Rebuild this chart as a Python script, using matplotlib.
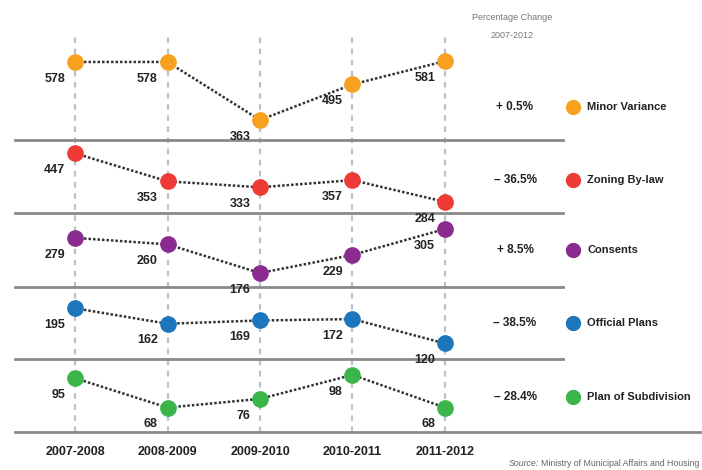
import matplotlib
matplotlib.use("Agg")
import matplotlib.pyplot as plt
from matplotlib.lines import Line2D
from matplotlib import font_manager

periods = ["2007-2008", "2008-2009", "2009-2010", "2010-2011", "2011-2012"]
series_names = ["Minor Variance", "Zoning By-law", "Consents", "Official Plans", "Plan of Subdivision"]
minor_variance = [578, 578, 363, 495, 581]
zoning_bylaw = [447, 353, 333, 357, 284]
consents = [279, 260, 176, 229, 305]
official_plans = [195, 162, 169, 172, 120]
plan_subdivision = [95, 68, 76, 98, 68]
pct_change = ["+ 0.5%", "\u2013 36.5%", "+ 8.5%", "\u2013 38.5%", "\u2013 28.4%"]

series = [minor_variance, zoning_bylaw, consents, official_plans, plan_subdivision]
colors = ["#F7A11F", "#EE3B36", "#8B2B8F", "#1C76BC", "#3BB54A"]

# layout (styles/positions)
W, H = 702, 470
band_px = [(37, 140), (140, 213), (213, 287), (287, 359), (359, 432)]
row_y = [107, 180, 250, 323, 397]
ylims = [(288.9, 670.4), (246.6, 491.8), (135.0, 351.9), (86.7, 240.5), (45.6, 112.6)]
x_left, x_right = 15, 563
xlim = (-0.649, 5.276)

avail = {f.name for f in font_manager.fontManager.ttflist}
cond = "Liberation Sans Narrow" if "Liberation Sans Narrow" in avail else "Liberation Sans"
plt.rcParams["font.family"] = [cond, "DejaVu Sans"]

fig = plt.figure(figsize=(W / 100, H / 100), dpi=100)

def rect(x0, y0, x1, y1):
    return [x0 / W, 1 - y1 / H, (x1 - x0) / W, (y1 - y0) / H]

xs = list(range(len(periods)))

# background dashed verticals
bg = fig.add_axes(rect(x_left, 37, x_right, 432))
bg.set_xlim(*xlim)
bg.set_ylim(0, 1)
for x in xs:
    bg.axvline(x, color="#b9c2cc", lw=1.6, ls=(0, (2.5, 2.5)), zorder=0)
bg.axis("off")

for i, (vals, col) in enumerate(zip(series, colors)):
    t, b = band_px[i]
    ax = fig.add_axes(rect(x_left, t, x_right, b))
    ax.patch.set_alpha(0)
    ax.set_xlim(*xlim)
    ax.set_ylim(*ylims[i])
    ax.plot(xs, vals, ls=(0, (1, 0.8)), color="#333333", lw=1.8, zorder=2)
    ax.plot(xs, vals, ls="none", marker="o", ms=11, color=col,
            markeredgecolor=col, zorder=3, clip_on=False)
    for x, v in zip(xs, vals):
        ax.annotate(str(v), (x, v), xytext=(-7, -12), textcoords="offset points",
                    ha="right", va="center", fontsize=9, fontweight="bold",
                    color="#222222", annotation_clip=False)
    for s in ["top", "left", "right"]:
        ax.spines[s].set_visible(False)
    if i < 4:
        ax.spines["bottom"].set_color("#8a8a8a")
        ax.spines["bottom"].set_linewidth(2)
    else:
        ax.spines["bottom"].set_visible(False)
    ax.set_yticks([])
    if i == 4:
        ax.set_xticks(xs)
        ax.set_xticklabels(periods, fontsize=9, fontweight="bold", color="#222222")
        ax.tick_params(axis="x", length=0, pad=10)
    else:
        ax.set_xticks([])
    cy = row_y[i]
    fig.text(515 / W, 1 - cy / H, pct_change[i], ha="center", va="center",
             fontsize=8.5, fontweight="bold", color="#222222")
    fig.add_artist(Line2D([573 / W], [1 - cy / H], marker="o", ms=10, color=col,
                          transform=fig.transFigure))
    fig.text(587 / W, 1 - cy / H, series_names[i], ha="left", va="center",
             fontsize=8, fontweight="bold", color="#222222")

fig.add_artist(Line2D([x_left / W, 700 / W], [1 - 432 / H] * 2, color="#8a8a8a", lw=2,
                      transform=fig.transFigure))

fig.text(512 / W, 1 - 18 / H, "Percentage Change", ha="center", va="center",
         fontsize=6.5, color="#777777")
fig.text(512 / W, 1 - 35 / H, "2007-2012", ha="center", va="center",
         fontsize=6.5, color="#777777")
src = fig.text(699 / W, 1 - 464 / H, "Ministry of Municipal Affairs and Housing",
               ha="right", va="center", fontsize=6.3, color="#666666")
fig.canvas.draw()
bb = src.get_window_extent()
fig.text((bb.x0 - 2) / W, 1 - 464 / H, "Source:", ha="right", va="center",
         fontsize=6.3, color="#666666", style="italic")

fig.savefig("out.png", dpi=100)
